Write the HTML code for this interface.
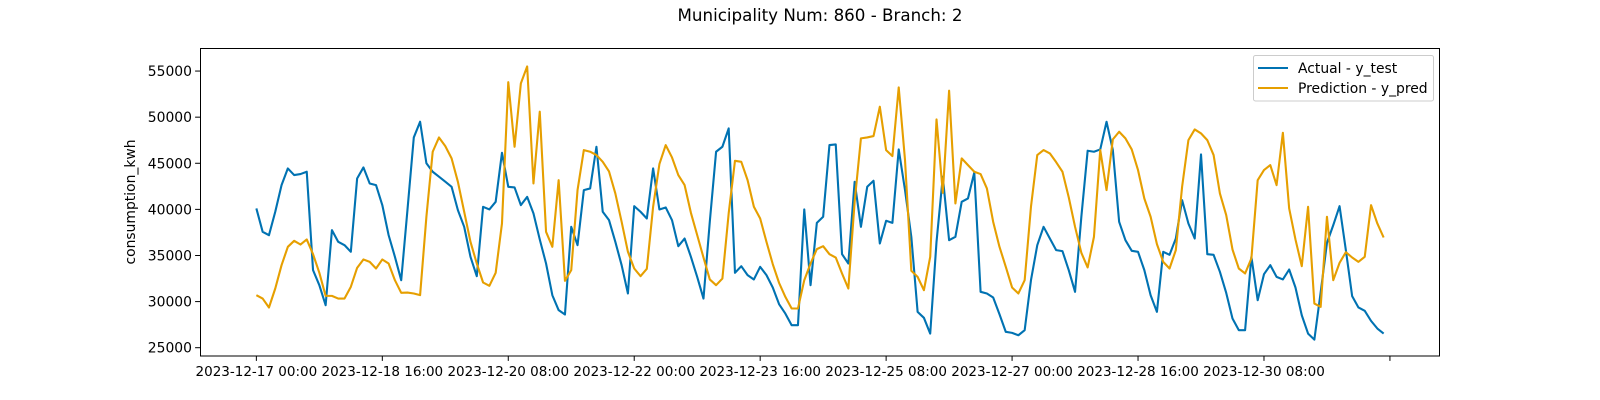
<!DOCTYPE html>
<html><head><meta charset="utf-8"><style>
html,body{margin:0;padding:0;background:#fff;}
svg{display:block;font-family:"DejaVu Sans","Liberation Sans",sans-serif;}
</style></head><body>
<svg id="chart" width="1600" height="400" xmlns="http://www.w3.org/2000/svg">
<text x="820" y="21" text-anchor="middle" font-size="16.7" fill="#000">Municipality Num: 860 - Branch: 2</text>
<text transform="translate(135,202) rotate(-90)" text-anchor="middle" font-size="13.9" fill="#000">consumption_kwh</text>
<g id="ticks"></g>
<g id="series"></g>
<rect x="200.5" y="48.5" width="1239" height="307.5" fill="none" stroke="#000" stroke-width="1"/>
<g>
<rect x="1253.5" y="55.5" width="180" height="45.5" rx="2" fill="#fff" fill-opacity="0.8" stroke="#ccc" stroke-width="1"/>
<line x1="1258" y1="68" x2="1288" y2="68" stroke="#0072B2" stroke-width="2.1"/>
<text x="1298" y="73" font-size="13.9" fill="#000">Actual - y_test</text>
<line x1="1258" y1="88" x2="1288" y2="88" stroke="#E69F00" stroke-width="2.1"/>
<text x="1298" y="93" font-size="13.9" fill="#000">Prediction - y_pred</text>
</g>
</svg>
<script>
// hours since 2023-12-17 00:00, step 2h
const hourStep = 2;
const actual = [40100,37570,37200,39740,42630,44440,43720,43830,44080,33410,31780,29610,37750,36480,36120,35400,43350,44550,42810,42630,40460,37210,34860,32320,40000,47800,49500,45000,44080,
43540,43000,42450,39920,38110,34860,32760,40280,39990,40820,46140,42450,42380,40460,41360,39560,36740,34130,30690,29070,28600,38110,36120,42090,42270,46790,39740,38830,36480,33950,30880,
40350,39740,39010,44440,39990,40210,38830,36010,36840,34860,32680,30330,38650,46250,46790,48780,33120,33840,32870,32400,33770,32870,31530,29720,28700,27440,27440,40000,31780,38540,
39200,46970,47040,35140,34130,42990,38110,42450,43100,36300,38760,38540,46500,42090,37020,28890,28240,26530,36480,43540,36660,37020,40820,41190,44000,31060,30880,30440,28630,26720,
26610,26350,26900,32320,36120,38110,36840,35580,35470,33410,31060,39200,46360,46250,46500,49500,46430,38650,36660,35510,35400,33410,30690,28890,35400,35070,36840,41000,38470,36840,
45960,35140,35070,33230,30950,28160,26900,26900,34860,30150,32970,33950,32680,32400,33480,31530,28520,26530,25880,31000,36370,38290,40350,35580,30590,29360,29000,27910,27080,26530];
const predicted = [30700,30330,29360,31420,33950,35940,36590,36190,36740,35140,33120,30620,30620,30330,30330,31600,33660,34570,34310,33590,34570,34130,32320,30950,30980,30880,30700,39200,46250,
47800,46860,45530,42990,39740,36480,34130,32070,31710,33120,38470,53800,46790,53660,55500,42810,50590,37570,35940,43170,32250,33410,42090,46430,46250,45890,45160,44110,41730,38650,35400,
33590,32760,33550,40280,44910,46970,45630,43720,42630,39630,37210,34780,32400,31780,32500,39560,45270,45160,43170,40280,39010,36480,34060,32030,30510,29250,29250,32320,34130,35690,
36010,35140,34780,33050,31420,40820,47700,47800,47950,51130,46430,45780,53230,45340,33340,32680,31240,34860,49760,41800,52870,40640,45530,44800,44080,43830,42270,38650,35940,33770,
31530,30880,32320,40280,45890,46430,46070,45120,44080,41300,38110,35290,33700,37020,46430,42090,47590,48420,47700,46500,44260,41180,39200,36230,34310,33590,35580,42450,47510,48670,
48240,47510,45890,41730,39380,35650,33590,33050,34680,43170,44260,44800,42630,48310,40100,36740,33840,40280,29790,29430,39200,32320,34200,35360,34780,34310,34860,40460,38470,36950];
const xTickLabels = ["2023-12-17 00:00","2023-12-18 16:00","2023-12-20 08:00","2023-12-22 00:00","2023-12-23 16:00","2023-12-25 08:00","2023-12-27 00:00","2023-12-28 16:00","2023-12-30 08:00",""];
const xTickHours = [0,40,80,120,160,200,240,280,320,360];
const yTickValues = [25000,30000,35000,40000,45000,50000,55000];

const NS = "http://www.w3.org/2000/svg";
const L = 200, R = 1440, T = 48, B = 356;
const nH = (actual.length - 1) * hourStep;
const pad = nH * 0.05;
const xMin = -pad, xMax = nH + pad;
const yMin = 24100, yMax = 57500;
function xScale(h) { return L + (h - xMin) / (xMax - xMin) * (R - L); }
function yScale(v) { return B - (v - yMin) / (yMax - yMin) * (B - T); }

const tg = document.getElementById('ticks');
xTickHours.forEach((h, i) => {
  const x = xScale(h);
  const ln = document.createElementNS(NS, 'line');
  ln.setAttribute('x1', x); ln.setAttribute('x2', x); ln.setAttribute('y1', B); ln.setAttribute('y2', B + 4.9);
  ln.setAttribute('stroke', '#000'); ln.setAttribute('stroke-width', '1');
  
  
  tg.appendChild(ln);
  if (xTickLabels[i]) {
    const t = document.createElementNS(NS, 'text');
    t.setAttribute('x', x); t.setAttribute('y', B + 20);
    t.setAttribute('text-anchor', 'middle'); t.setAttribute('font-size', '13.5');
    t.textContent = xTickLabels[i];
    
    
    tg.appendChild(t);
  }
});
yTickValues.forEach(v => {
  const y = yScale(v);
  const ln = document.createElementNS(NS, 'line');
  ln.setAttribute('x1', L - 4.9); ln.setAttribute('x2', L); ln.setAttribute('y1', y); ln.setAttribute('y2', y);
  ln.setAttribute('stroke', '#000'); ln.setAttribute('stroke-width', '1');
  
  
  tg.appendChild(ln);
  const t = document.createElementNS(NS, 'text');
  t.setAttribute('x', L - 8); t.setAttribute('y', y + 5);
  t.setAttribute('text-anchor', 'end'); t.setAttribute('font-size', '13.9');
  t.textContent = String(v);
  
  
  tg.appendChild(t);
});

const sg = document.getElementById('series');
function drawLine(vals, color, name) {
  const d = vals.map((v, i) => (i ? 'L' : 'M') + xScale(i * hourStep).toFixed(2) + ' ' + yScale(v).toFixed(2)).join(' ');
  const p = document.createElementNS(NS, 'path');
  p.setAttribute('d', d);
  p.setAttribute('fill', 'none'); p.setAttribute('stroke', color);
  p.setAttribute('stroke-width', '2.1'); p.setAttribute('stroke-linejoin', 'round');
  
  
  sg.appendChild(p);
}
drawLine(actual, '#0072B2', 'actual-line');
drawLine(predicted, '#E69F00', 'prediction-line');
</script>
</body></html>
